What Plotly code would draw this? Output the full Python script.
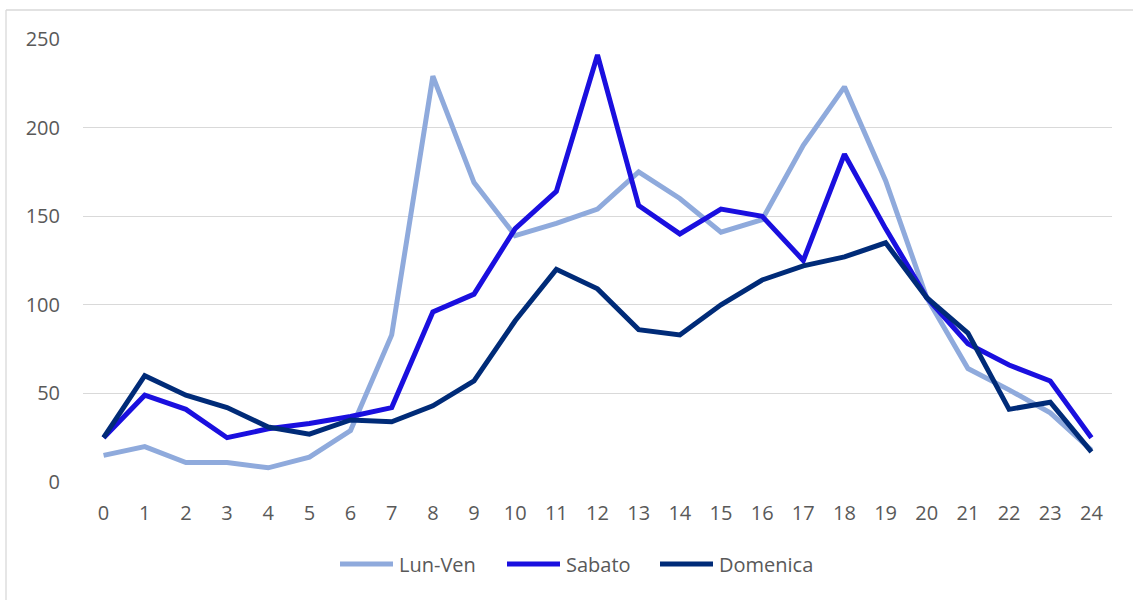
import plotly.graph_objects as go

hours = list(range(25))
lun_ven = [15, 20, 11, 11, 8, 14, 29, 83, 229, 169, 139, 146, 154, 175, 160, 141, 148, 190, 223, 170, 104, 64, 52, 39, 18]
sabato = [25, 49, 41, 25, 30, 33, 37, 42, 96, 106, 143, 164, 241, 156, 140, 154, 150, 125, 185, 143, 104, 78, 66, 57, 25]
domenica = [25, 60, 49, 42, 31, 27, 35, 34, 43, 57, 91, 120, 109, 86, 83, 100, 114, 122, 127, 135, 104, 84, 41, 45, 17]
y_ticks = [0, 50, 100, 150, 200, 250]

names = ["Lun-Ven", "Sabato", "Domenica"]
colors = ["#8FAADC", "#1A0FDF", "#002B78"]
values = [lun_ven, sabato, domenica]

# layout geometry (pixels in the page)
W, H = 1133, 600
L, R, T, B = 83, 1112, 39, 482
legend_line_x = [340, 507, 660]
legend_y = 564
legend_line_len = 53

fig = go.Figure()
for name, vals, col in zip(names, values, colors):
    fig.add_trace(go.Scatter(x=hours, y=vals, name=name, mode="lines",
                             line=dict(color=col, width=5), showlegend=False))

font = dict(family="Open Sans", size=20, color="#595959")

def px_x(p):
    return (p - L) / (R - L)

def px_y(p):
    return (B - p) / (B - T)

border = dict(color="#D9D9D9", width=1.3)
shapes = [
    dict(type="line", xref="paper", yref="paper", x0=px_x(6), x1=px_x(W), y0=px_y(10), y1=px_y(10), line=border, layer="below"),
    dict(type="line", xref="paper", yref="paper", x0=px_x(6), x1=px_x(6), y0=px_y(10), y1=px_y(H), line=border, layer="below"),
]
annotations = []
for name, col, lx in zip(names, colors, legend_line_x):
    shapes.append(dict(type="line", xref="paper", yref="paper", x0=px_x(lx), x1=px_x(lx + legend_line_len),
                       y0=px_y(legend_y), y1=px_y(legend_y), line=dict(color=col, width=5)))
    annotations.append(dict(xref="paper", yref="paper", x=px_x(lx + legend_line_len + 4), y=px_y(legend_y),
                            xanchor="left", yanchor="middle", text=name, showarrow=False, font=font))

fig.update_layout(
    width=W, height=H,
    margin=dict(l=L, r=W - R, t=T, b=H - B),
    paper_bgcolor="white", plot_bgcolor="white",
    font=font,
    showlegend=False,
    xaxis=dict(range=[-0.5, 24.5], tickmode="array", tickvals=hours, ticktext=[str(h) for h in hours],
               showgrid=False, zeroline=False, showline=False, ticks="",
               ticklabelstandoff=17, tickfont=font),
    yaxis=dict(range=[0, 250], tickmode="array", tickvals=y_ticks, showgrid=True,
               gridcolor="#D9D9D9", gridwidth=1.3, zeroline=False, showline=False, ticks="",
               ticklabelstandoff=22, tickfont=font),
    shapes=shapes,
    annotations=annotations,
)

fig.write_html("out.html", config={"displayModeBar": False},
               post_script="document.body.style.margin='0';document.body.style.overflow='hidden';")
